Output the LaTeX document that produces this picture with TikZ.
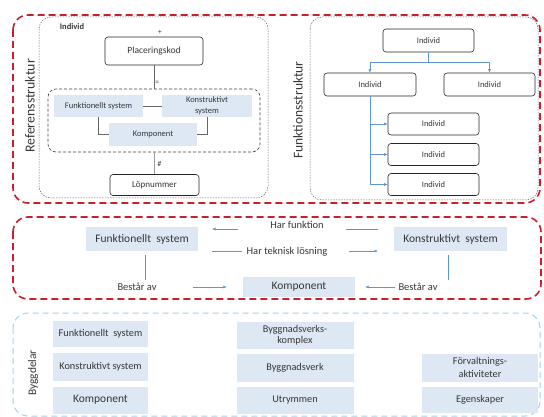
\documentclass[tikz,border=0pt]{standalone}
\usepackage{fontspec}
\setmainfont{Carlito}
\usetikzlibrary{arrows.meta,calc,positioning}
\definecolor{frameR}{RGB}{200,32,44}
\definecolor{frameB}{RGB}{168,208,232}
\definecolor{cellB}{RGB}{221,232,244}
\definecolor{linkB}{RGB}{95,150,205}
\definecolor{txt}{RGB}{55,55,55}
\newcommand{\fsz}[1]{\fontsize{#1}{#1}\selectfont}

\begin{document}
\begin{tikzpicture}[x=1pt,y=-1pt,every node/.style={text=txt},
  rbox/.style={draw=black!85,line width=0.6pt,rounded corners=3pt,fill=white,inner sep=1pt,align=center},
  bbox/.style={fill=cellB,inner sep=1pt,align=center},
  lbl/.style={inner sep=0pt,align=center},
  lnk/.style={linkB,line width=0.6pt},
  arr/.style={lnk,-{Latex[length=3.5pt,width=3pt]}},
  redframe/.style={frameR,line width=1.6pt,dash pattern=on 7pt off 4pt,rounded corners=15pt},
  grayframe/.style={black!60,line width=0.5pt,dash pattern=on 1.5pt off 1.2pt,rounded corners=12pt}]
  \useasboundingbox (0,0) rectangle (544,417);
  % outer frames
  \draw[redframe] (13,15) rectangle (540,203);
  \draw[redframe] (13,217) rectangle (541,299);
  \draw[frameB,line width=1pt,dash pattern=on 6pt off 4pt,rounded corners=15pt] (13,313) rectangle (540,416);
  \draw[grayframe] (39,17) rectangle (268,198);
  \draw[grayframe] (310,17) rectangle (538,200);
  \node[rotate=90,lbl] (refl) at (30,106) {\fsz{13.8}Referensstruktur};
  \node[rotate=90,lbl] (funl) at (298,110) {\fsz{13.5}Funktionsstruktur};
  \node[rotate=90,lbl] (bygl) at (33,373) {\fsz{11.5}Byggdelar};

  % referensstruktur
  \node[lbl] (indl) at (72,27) {\fsz{8.5}\bfseries Individ};
  \node[rbox,minimum width=98pt,minimum height=28pt] (plac) at (154,51) {\fsz{9.5}Placeringskod};
  \node[lbl] (plus) at (160,32) {\fsz{7.5}+};
  \node[draw=black!75,line width=0.6pt,dash pattern=on 3pt off 2pt,rounded corners=8pt,
        minimum width=212pt,minimum height=63pt] (grp) at (154,120.5) {};
  \node[bbox,minimum width=89pt,minimum height=22pt] (fs) at (98.5,106) {\fsz{8.5}Funktionellt system};
  \node[bbox,minimum width=90pt,minimum height=22pt] (ks) at (207,106) {\fsz{8.5}Konstruktivt\\[-1pt]\fsz{8.5}system};
  \node[bbox,minimum width=88pt,minimum height=23pt] (komp) at (153,134.5) {\fsz{8.5}Komponent};
  \node[rbox,minimum width=89pt,minimum height=21pt] (lop) at (154.5,185) {\fsz{9}Löpnummer};
  \draw[black!60,line width=0.5pt] (plac) -- (grp) node[pos=0.75,right=1pt,lbl] (eq) {\fsz{7.5}=};
  \draw[black!60,line width=0.5pt] (grp) -- (lop) node[pos=0.55,right=3pt,lbl] (hash) {\fsz{7.5}\#};
  \draw[black!60,line width=0.5pt] (fs) -- (ks);
  \draw[black!60,line width=0.5pt] (komp.west) -| (fs.south);
  \draw[black!60,line width=0.5pt] (komp.east) -| (ks.south);

  % funktionsstruktur
  \node[rbox,minimum width=91pt,minimum height=23pt] (ind0) at (428.5,40.5) {\fsz{8.5}Individ};
  \node[rbox,minimum width=92pt,minimum height=23pt] (ind1) at (370,84.5) {\fsz{8.5}Individ};
  \node[rbox,minimum width=91pt,minimum height=23pt] (ind2) at (489.5,84.5) {\fsz{8.5}Individ};
  \foreach \n/\y in {3/124,4/154.5,5/184.5}
    \node[rbox,minimum width=91pt,minimum height=22pt] (ind\n) at (433.5,\y) {\fsz{8.5}Individ};
  \draw[arr] (ind0.south) -- (ind0.south |- 0,62) -| (ind1.north);
  \draw[arr] (ind0.south) -- (ind0.south |- 0,62) -| (ind2.north);
  \foreach \n in {3,4,5}
    \draw[arr] (ind1.south) |- (ind\n.west);

  % relationer
  \node[bbox,minimum width=112pt,minimum height=24pt] (fs2) at (142,239) {\fsz{11.5}Funktionellt\ \ system};
  \node[bbox,minimum width=113pt,minimum height=24pt] (ks2) at (450.5,239) {\fsz{11.5}Konstruktivt\ \ system};
  \node[bbox,minimum width=112pt,minimum height=20pt] (komp2) at (299,287) {\fsz{11.5}Komponent};
  \node[lbl] (hf) at (297,225) {\fsz{10.5}Har funktion};
  \node[lbl] (ht) at (287,252) {\fsz{10.5}Har teknisk lösning};
  \node[lbl] (ba1) at (137,287) {\fsz{10.5}Består av};
  \node[lbl] (ba2) at (418,287) {\fsz{10.5}Består av};
  \coordinate (hf1) at (378,229); \coordinate (hf2) at (346,229);
  \coordinate (hf3) at (238,229); \coordinate (hf4) at (212,229);
  \coordinate (ht1) at (212,251); \coordinate (ht2) at (242,251);
  \coordinate (ht3) at (349,251); \coordinate (ht4) at (378,251);
  \draw[lnk] (hf1) -- (hf2);
  \draw[arr] (hf3) -- (hf4);
  \draw[lnk] (ht1) -- (ht2);
  \draw[arr] (ht3) -- (ht4);
  \draw[lnk,shorten <=4pt,shorten >=3pt] ([xshift=3pt]fs2.south) -- ([xshift=3pt]fs2.south |- ba1.north);
  \draw[lnk,shorten <=4pt,shorten >=3pt] ([xshift=-2.5pt]ks2.south) -- ([xshift=-2.5pt]ks2.south |- ba2.north);
  \draw[arr,shorten <=36pt,shorten >=16pt] (ba1.east) -- (ba1.east -| komp2.west);
  \draw[arr,shorten <=3pt,shorten >=10pt] (ba2.west) -- (ba2.west -| komp2.east);

  % byggdelar
  \node[bbox,minimum width=95pt,minimum height=26pt] (bfs) at (100.5,334) {\fsz{10.3}Funktionellt\ \ system};
  \node[bbox,minimum width=95pt,minimum height=28pt] (bks) at (100.5,367) {\fsz{10.3}Konstruktivt system};
  \node[bbox,minimum width=95pt,minimum height=27pt] (bkp) at (100.5,400) {\fsz{11.5}Komponent};
  \node[bbox,minimum width=117pt,minimum height=27pt] (bbk) at (295,335) {\fsz{10.3}Byggnadsverks-\\[-1pt]\fsz{10.3}komplex};
  \node[bbox,minimum width=117pt,minimum height=28pt] (bbv) at (295,367.5) {\fsz{10.3}Byggnadsverk};
  \node[bbox,minimum width=117pt,minimum height=27pt] (but) at (295,400.5) {\fsz{10.3}Utrymmen};
  \node[bbox,minimum width=116pt,minimum height=28pt] (bfa) at (480,367.5) {\fsz{10.3}Förvaltnings-\\[1pt]\fsz{10.3}aktiviteter};
  \node[bbox,minimum width=116pt,minimum height=26pt] (beg) at (480,400) {\fsz{10.3}Egenskaper};
\end{tikzpicture}
\end{document}
